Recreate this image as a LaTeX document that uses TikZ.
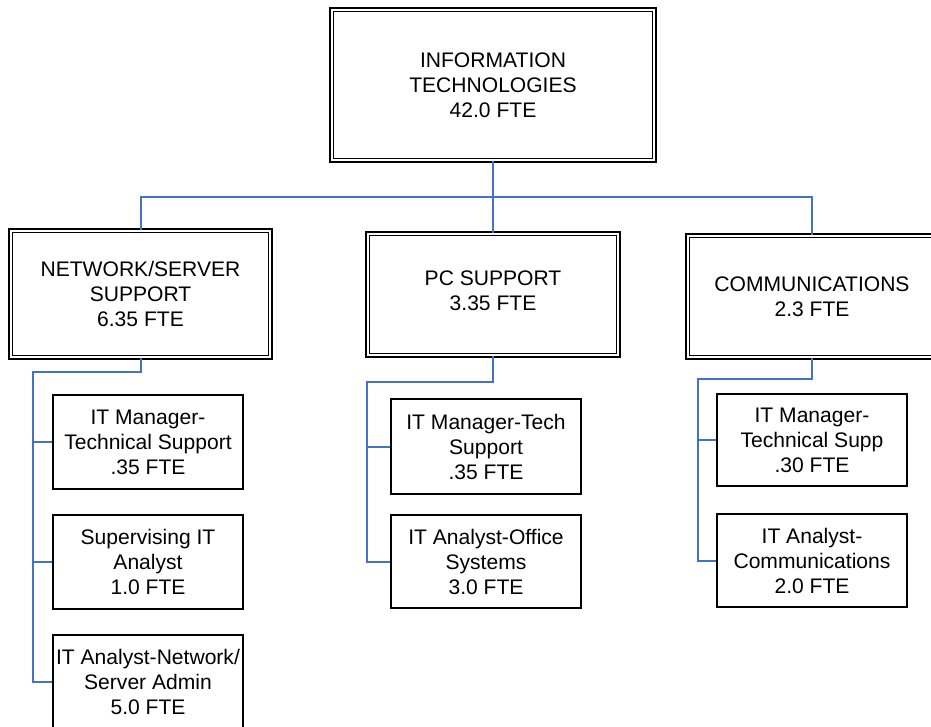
\documentclass[tikz,border=0pt]{standalone}
\usepackage{fontspec}
\setmainfont{Liberation Sans}
\definecolor{connblue}{RGB}{68,114,196}
\begin{document}
\begin{tikzpicture}[x=0.75pt,y=-0.75pt,
  txt/.style={align=center,font=\fontsize{15.8}{18.75}\selectfont,inner sep=0pt},
  dbox/.style={txt,draw=black,rectangle,line width=1.2pt,double=white,double distance=1.4pt},
  sbox/.style={txt,draw=black,rectangle,line width=1.5pt},
  conn/.style={draw=connblue,line width=1.5pt}]
\useasboundingbox[fill=white] (0,0) rectangle (931,726);
% level 0
\node[dbox,minimum width=322.5*0.75pt,minimum height=150.5*0.75pt] (top) at (493,85)
  {INFORMATION\\TECHNOLOGIES\\42.0 FTE};
% level 1
\node[dbox,minimum width=259.5*0.75pt,minimum height=126.5*0.75pt] (net) at (140.5,294)
  {NETWORK/SERVER\\SUPPORT\\6.35 FTE};
\node[dbox,minimum width=250.5*0.75pt,minimum height=121.5*0.75pt,text depth=5.5pt] (pc) at (493,294.5)
  {PC SUPPORT\\3.35 FTE};
\node[dbox,minimum width=248.5*0.75pt,minimum height=121.5*0.75pt] (com) at (812,296.5)
  {COMMUNICATIONS\\2.3 FTE};
% level 2 - network
\node[sbox,minimum width=190.5*0.75pt,minimum height=94.5*0.75pt] (n1) at (148,442)
  {IT Manager-\\Technical Support\\.35 FTE};
\node[sbox,minimum width=190.5*0.75pt,minimum height=94.5*0.75pt] (n2) at (148,562)
  {Supervising IT\\Analyst\\1.0 FTE};
\node[sbox,minimum width=190.5*0.75pt,minimum height=94.5*0.75pt] (n3) at (148,682)
  {IT Analyst-Network/\\Server Admin\\5.0 FTE};
% level 2 - pc
\node[sbox,minimum width=190.5*0.75pt,minimum height=95.5*0.75pt] (p1) at (486,446.5)
  {IT Manager-Tech\\Support\\.35 FTE};
\node[sbox,minimum width=190.5*0.75pt,minimum height=93.5*0.75pt] (p2) at (486,561.5)
  {IT Analyst-Office\\Systems\\3.0 FTE};
% level 2 - communications
\node[sbox,minimum width=190.5*0.75pt,minimum height=92.5*0.75pt] (c1) at (812,440)
  {IT Manager-\\Technical Supp\\.30 FTE};
\node[sbox,minimum width=190.5*0.75pt,minimum height=93.5*0.75pt] (c2) at (812,560.5)
  {IT Analyst-\\Communications\\2.0 FTE};
% connector junctions
\coordinate (bus) at (493,197);
\coordinate (netj) at (33,372);
\coordinate (pcj) at (367,382);
\coordinate (comj) at (698,379);
% connectors
\draw[conn,line width=2pt] (top.south) -- (bus);
\draw[conn] (net.north) |- (bus) -| (com.north);
\draw[conn] (bus) -- (pc.north);
\draw[conn] (net.south) |- (netj) |- (n3.west);
\draw[conn] (netj |- n1.west) -- (n1.west);
\draw[conn] (netj |- n2.west) -- (n2.west);
\draw[conn] (pc.south) |- (pcj) |- (p2.west);
\draw[conn] (pcj |- p1.west) -- (p1.west);
\draw[conn] (com.south) |- (comj) |- (c2.west);
\draw[conn] (comj |- c1.west) -- (c1.west);
\end{tikzpicture}
\end{document}
